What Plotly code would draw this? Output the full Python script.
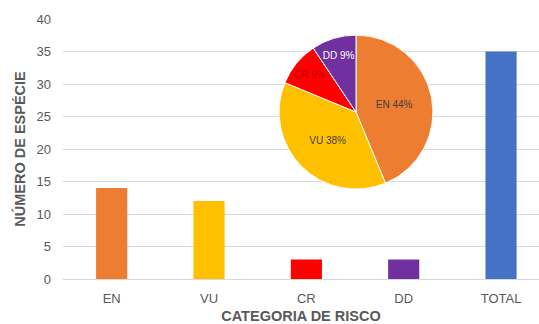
import plotly.graph_objects as go

categories = ["EN", "VU", "CR", "DD", "TOTAL"]
species_counts = [14, 12, 3, 3, 35]
bar_colors = ["#ED7D31", "#FFC000", "#FF0000", "#7030A0", "#4472C4"]

pie_labels = ["EN", "VU", "CR", "DD"]
pie_values = [14, 12, 3, 3]
pie_colors = ["#ED7D31", "#FFC000", "#FF0000", "#7030A0"]
pie_text_colors = ["#404040", "#404040", "#C00000", "#FFFFFF"]

font_family = "Liberation Sans, Arial, sans-serif"
axis_grey = "#595959"

fig = go.Figure()

fig.add_trace(go.Bar(
    x=categories,
    y=species_counts,
    marker=dict(color=bar_colors, line=dict(width=0)),
    showlegend=False,
    hoverinfo="x+y",
))

fig.add_trace(go.Pie(
    labels=pie_labels,
    values=pie_values,
    sort=False,
    direction="clockwise",
    rotation=0,
    marker=dict(colors=pie_colors, line=dict(color="#FFFFFF", width=1)),
    texttemplate="%{label} %{percent:.0%}",
    textposition="inside",
    insidetextorientation="horizontal",
    insidetextfont=dict(family=font_family, size=10, color=pie_text_colors),
    domain=dict(x=[0.4538, 0.7773], y=[0.346, 0.938]),
    showlegend=False,
))

fig.update_layout(
    width=539,
    height=324,
    margin=dict(l=63, r=0, t=19, b=45),
    paper_bgcolor="white",
    plot_bgcolor="white",
    bargap=0.68,
    font=dict(family=font_family, color=axis_grey),
    xaxis=dict(
        range=[-0.5, 4.39],
        showgrid=False,
        showline=True,
        linecolor="#D9D9D9",
        linewidth=1,
        ticks="",
        ticklabelstandoff=7,
        tickfont=dict(size=13, color=axis_grey),
        title=dict(text="<b>CATEGORIA DE RISCO</b>", font=dict(size=14.5, color=axis_grey), standoff=8),
    ),
    yaxis=dict(
        range=[0, 40],
        dtick=5,
        showgrid=True,
        gridcolor="#D9D9D9",
        gridwidth=1,
        zeroline=False,
        ticks="",
        ticklabelstandoff=11,
        tickfont=dict(size=13, color=axis_grey),
        title=dict(text="<b>NÚMERO DE ESPÉCIE</b>", font=dict(size=14.5, color=axis_grey), standoff=7),
    ),
)

fig.write_html("out.html")
